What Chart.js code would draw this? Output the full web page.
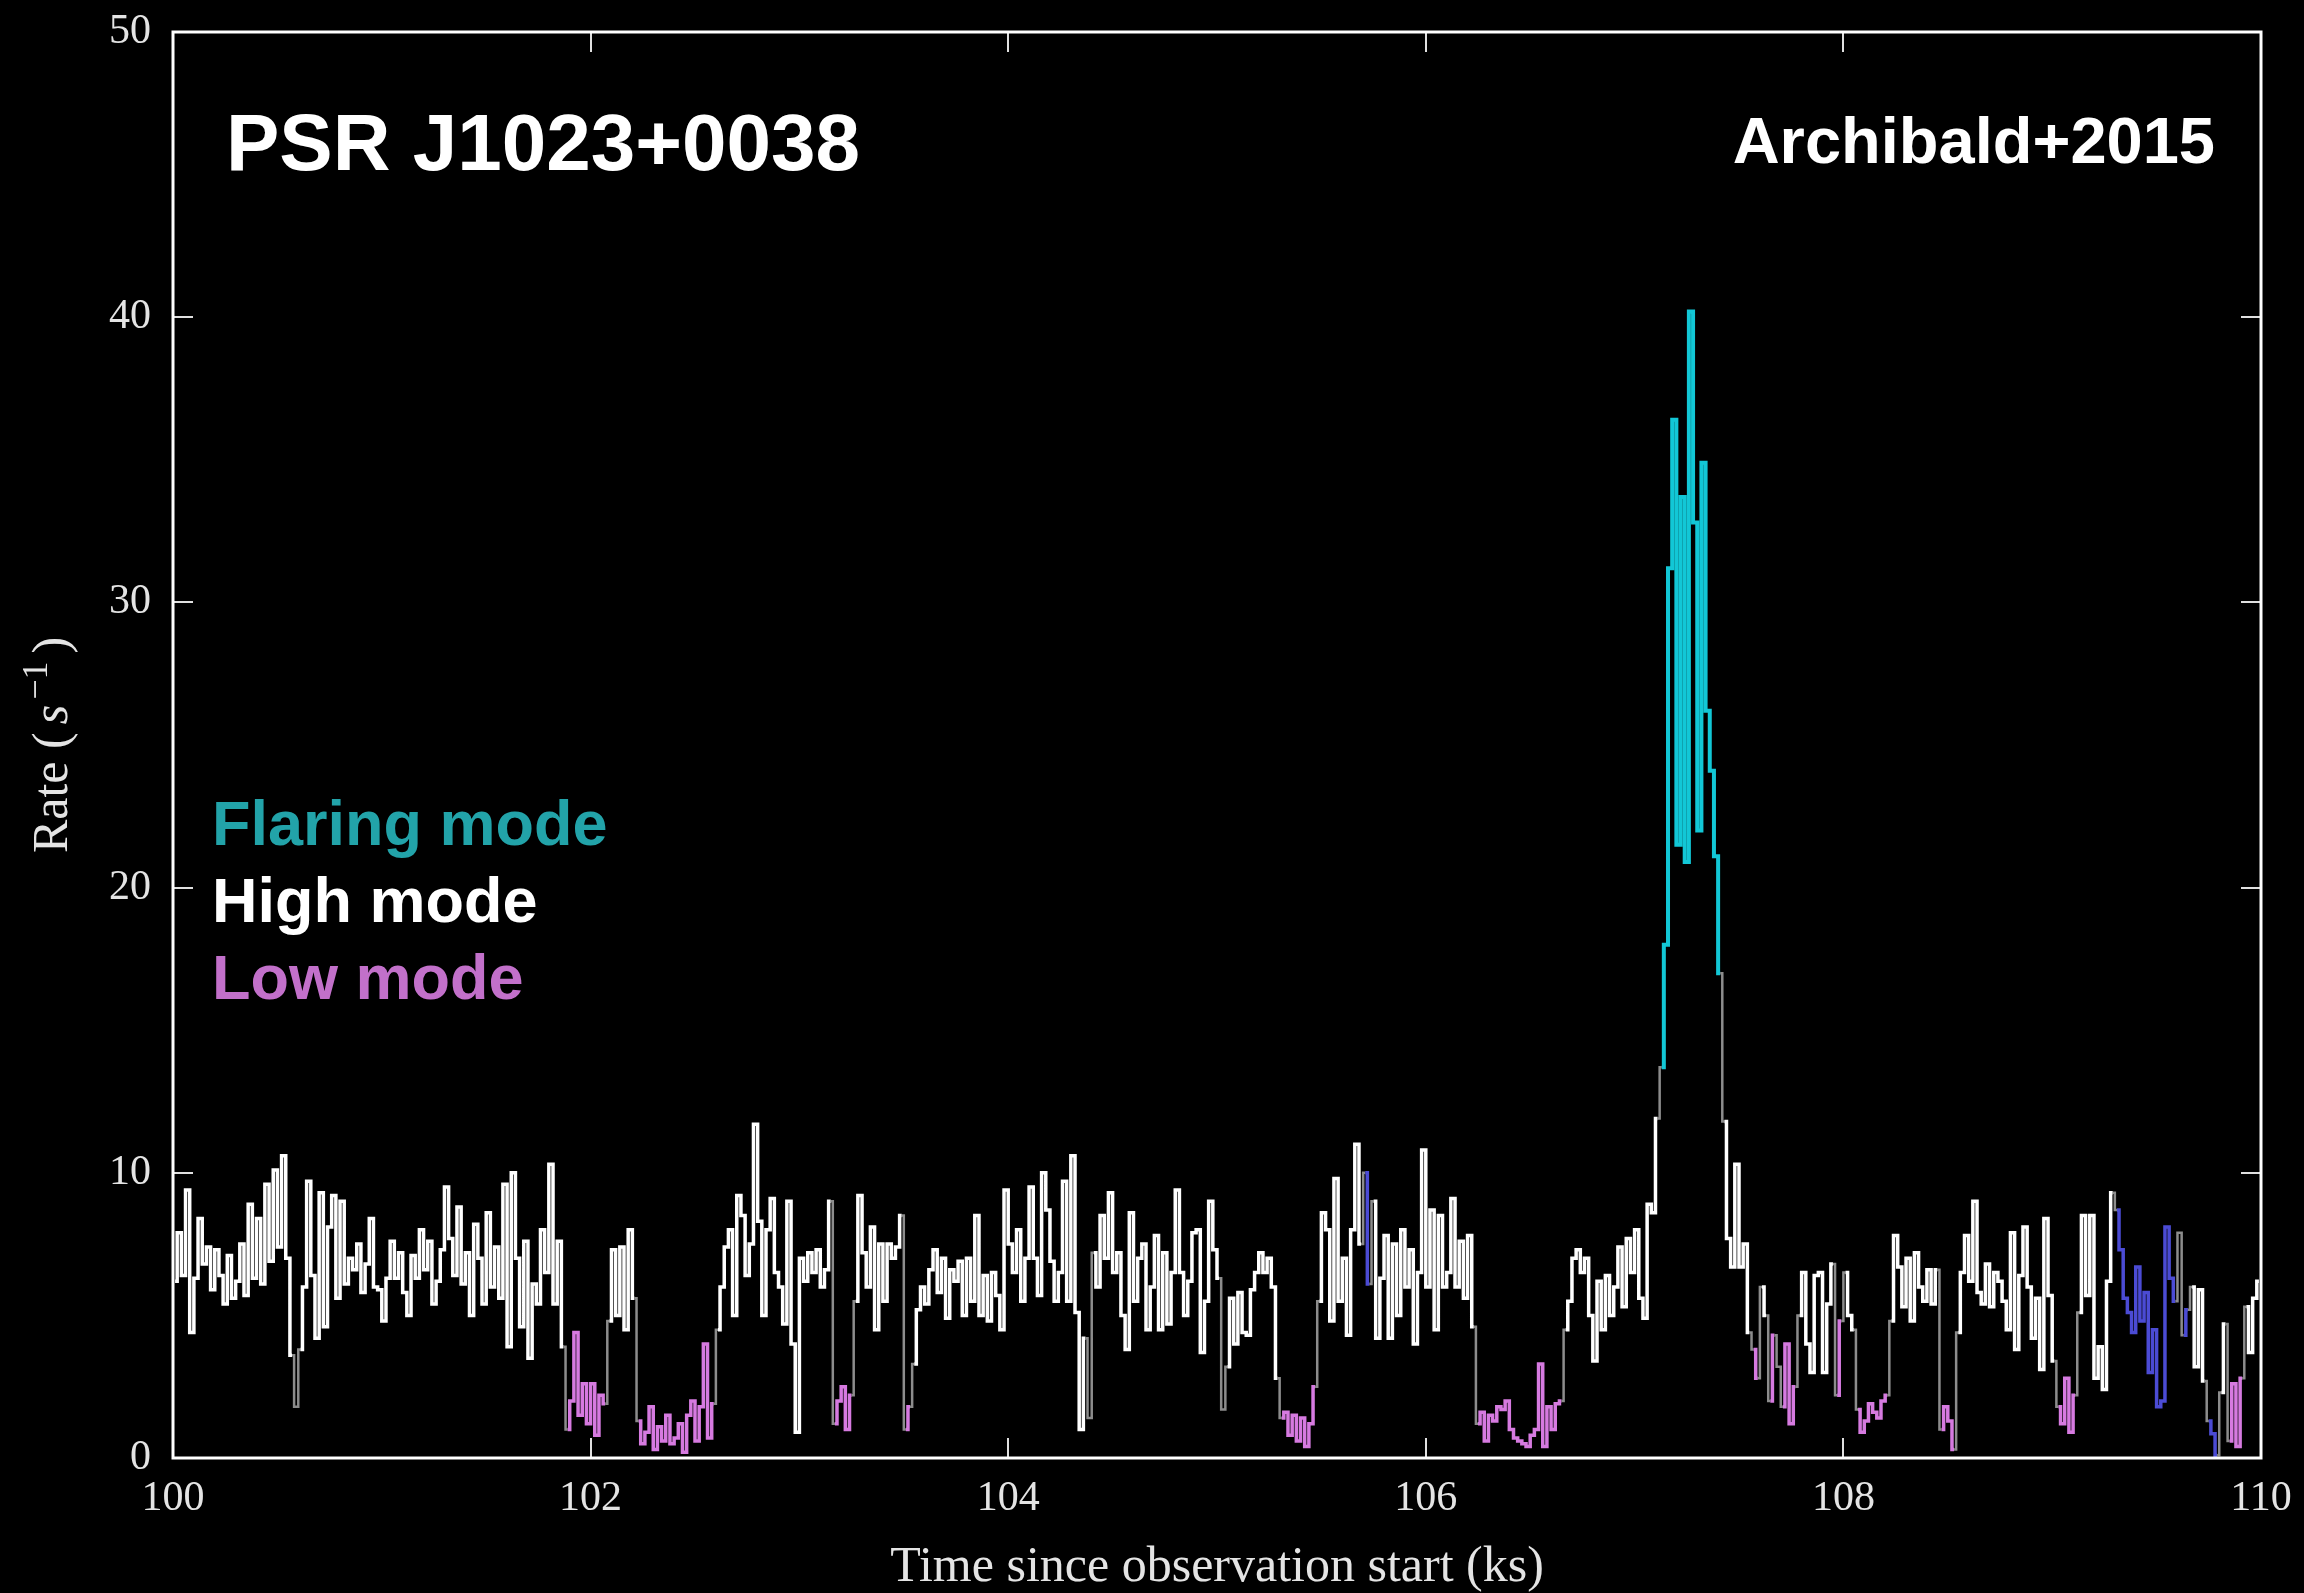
<!DOCTYPE html>
<html>
<head>
<meta charset="utf-8">
<title>PSR J1023+0038 light curve</title>
<script src="https://cdn.jsdelivr.net/npm/chart.js@4.4.1/dist/chart.umd.min.js"></script>
<style>
  html, body { margin: 0; padding: 0; background: #000; }
  canvas { display: block; }
</style>
</head>
<body>
<canvas id="lc" width="2304" height="1593"></canvas>
<script>
// light curve, 20 s bins starting at 100 ks
const tStart = 100;
const binWidth = 0.02;
const rates = [
  6.2, 7.9, 6.4, 9.4, 4.4, 6.3, 8.4, 6.8, 7.4, 5.9,
  7.3, 6.4, 5.4, 7.1, 5.6, 6.2, 7.5, 5.7, 8.9, 6.3,
  8.4, 6.1, 9.6, 6.9, 10.1, 7.4, 10.6, 7.0, 3.6, 1.8,
  3.8, 6.0, 9.7, 6.4, 4.2, 9.3, 4.6, 8.1, 9.2, 5.6,
  9.0, 6.1, 7.0, 6.6, 7.5, 5.8, 6.8, 8.4, 6.0, 5.9,
  4.8, 6.3, 7.6, 6.3, 7.2, 5.8, 5.0, 7.1, 6.3, 8.0,
  6.6, 7.6, 5.4, 6.2, 7.3, 9.5, 7.7, 6.4, 8.8, 6.1,
  7.2, 5.0, 8.2, 7.0, 5.4, 8.6, 6.0, 7.4, 5.6, 9.6,
  3.9, 10.0, 7.0, 4.6, 7.6, 3.5, 6.1, 5.4, 8.0, 6.5,
  10.3, 5.4, 7.6, 3.9, 1.0, 2.0, 4.4, 1.5, 2.6, 1.2,
  2.6, 0.8, 2.2, 1.9, 4.8, 7.3, 5.0, 7.4, 4.5, 8.0,
  5.6, 1.3, 0.5, 0.9, 1.8, 0.3, 1.1, 0.6, 1.5, 0.5,
  0.7, 1.2, 0.2, 1.5, 2.0, 0.6, 1.8, 4.0, 0.7, 1.9,
  4.5, 6.0, 7.4, 8.0, 5.0, 9.2, 8.5, 6.4, 7.5, 11.7,
  8.3, 5.0, 8.0, 9.1, 6.5, 6.0, 4.7, 9.0, 4.0, 0.9,
  7.0, 6.2, 7.2, 6.5, 7.3, 6.0, 6.6, 9.0, 1.2, 2.0,
  2.5, 1.0, 2.2, 5.5, 9.2, 7.2, 6.0, 8.1, 4.5, 7.5,
  5.5, 7.5, 7.0, 7.4, 8.5, 1.0, 1.8, 3.3, 5.2, 6.0,
  5.4, 6.6, 7.3, 5.8, 7.0, 4.9, 6.6, 6.2, 6.9, 5.0,
  7.0, 5.5, 8.5, 5.0, 6.4, 4.8, 6.5, 5.7, 4.5, 9.4,
  7.5, 6.5, 8.0, 5.5, 7.0, 9.5, 7.0, 5.7, 10.0, 8.7,
  6.9, 5.5, 6.5, 9.7, 5.5, 10.6, 5.1, 1.0, 4.2, 1.4,
  7.2, 6.0, 8.5, 7.0, 9.3, 6.5, 7.2, 5.0, 3.8, 8.6,
  5.5, 7.0, 7.5, 4.5, 6.0, 7.8, 4.5, 7.2, 4.7, 6.5,
  9.4, 6.5, 5.0, 6.2, 7.9, 8.0, 3.7, 5.5, 9.0, 7.3,
  6.3, 1.7, 3.2, 5.6, 4.0, 5.8, 4.4, 4.3, 5.9, 6.5,
  7.2, 6.5, 7.0, 6.0, 2.8, 1.4, 1.6, 0.8, 1.5, 0.6,
  1.4, 0.4, 1.2, 2.5, 5.5, 8.6, 8.0, 4.8, 9.8, 5.5,
  7.0, 4.3, 8.0, 11.0, 7.5, 10.0, 6.1, 9.0, 4.2, 6.3,
  7.8, 4.2, 7.5, 5.0, 8.0, 6.0, 7.3, 4.0, 6.5, 10.8,
  6.0, 8.7, 4.5, 8.5, 6.0, 6.5, 9.1, 6.0, 7.6, 5.6,
  7.8, 4.6, 1.2, 1.6, 0.6, 1.5, 1.3, 1.8, 1.7, 2.0,
  1.0, 0.7, 0.6, 0.5, 0.4, 0.8, 1.0, 3.3, 0.4, 1.8,
  1.0, 1.9, 2.0, 4.5, 5.5, 7.0, 7.3, 6.5, 7.0, 5.0,
  3.4, 6.2, 4.5, 6.4, 5.0, 6.0, 7.4, 5.3, 7.7, 6.5,
  8.0, 5.6, 4.9, 8.9, 8.6, 11.9, 13.7, 18.0, 31.2, 36.4,
  21.5, 33.7, 20.9, 40.2, 32.8, 22.0, 34.9, 26.2, 24.1, 21.1,
  17.0, 11.8, 7.7, 6.7, 10.3, 6.7, 7.5, 4.4, 3.8, 2.8,
  6.0, 5.0, 2.0, 4.3, 3.2, 1.8, 4.0, 1.2, 2.5, 5.0,
  6.5, 4.0, 3.0, 6.4, 6.5, 3.0, 5.4, 6.8, 2.2, 4.8,
  6.5, 5.0, 4.5, 1.7, 0.9, 1.3, 1.9, 1.6, 1.4, 2.0,
  2.2, 4.8, 7.8, 6.7, 5.3, 7.0, 4.8, 7.2, 6.0, 5.5,
  6.6, 5.4, 6.6, 1.0, 1.8, 1.3, 0.3, 4.4, 6.5, 7.8,
  6.2, 9.0, 5.8, 5.4, 6.8, 5.3, 6.5, 6.2, 5.5, 4.5,
  7.9, 3.8, 6.4, 8.1, 6.0, 4.2, 5.6, 3.1, 8.4, 5.7,
  3.4, 1.8, 1.2, 2.8, 0.9, 2.2, 5.1, 8.5, 5.7, 8.5,
  2.8, 3.9, 2.4, 6.2, 9.3, 8.7, 7.3, 5.6, 5.1, 4.4,
  6.7, 4.8, 5.8, 3.0, 4.5, 1.8, 2.0, 8.1, 6.3, 5.5,
  7.9, 4.3, 5.2, 6.0, 3.2, 5.9, 2.7, 1.3, 0.85, 0.1,
  2.3, 4.7, 0.6, 2.6, 0.4, 2.8, 5.3, 3.7, 5.6, 6.2
];

// mode time ranges (ks)
const flareRanges = [[107.12, 107.42]];
const lowRanges = [
  [100.58, 100.60], [101.88, 102.08], [102.22, 102.60], [103.16, 103.26],
  [103.50, 103.54], [104.38, 104.40], [105.02, 105.04], [105.30, 105.48],
  [106.24, 106.66], [107.56, 107.60], [107.64, 107.68], [107.70, 107.78],
  [107.96, 108.00], [108.06, 108.22], [108.46, 108.54], [109.02, 109.12],
  [109.84, 109.92]
];
const blueRanges = [[105.70, 105.74], [109.30, 109.60], [109.62, 109.66], [109.74, 109.80]];

const xTicks = [100, 102, 104, 106, 108, 110];
const yTicks = [0, 10, 20, 30, 40, 50];
const modeLabels = ["Flaring mode", "High mode", "Low mode"];
const sourceName = "PSR J1023+0038";
const reference = "Archibald+2015";

const colors = { h: "#ffffff", l: "#d67ae0", f: "#12c7d6", b: "#4b4bd4", gap: "#8c8c8c" };
const widths = { h: 3.5, l: 3.5, f: 4, b: 3.5 };
const labelColors = ["#22a3a9", "#ffffff", "#c270ca"];
const textColor = "#e4e4e4";
const serif = "'Liberation Serif', 'Times New Roman', serif";
const sans = "'Liberation Sans', Arial, sans-serif";

const inRanges = (t, list) => list.some(r => t >= r[0] && t <= r[1]);
const modes = rates.map((v, i) => {
  const t = tStart + (i + 0.5) * binWidth;
  if (inRanges(t, flareRanges)) return "f";
  if (inRanges(t, lowRanges)) return "l";
  if (inRanges(t, blueRanges)) return "b";
  return "h";
});

const frame = {
  id: "frame",
  afterDatasetsDraw(chart) {
    const { ctx, chartArea: a, scales: { x, y } } = chart;
    ctx.save();
    ctx.strokeStyle = "#e0e0e0";
    ctx.lineWidth = 2;
    ctx.beginPath();
    xTicks.slice(1, -1).forEach(v => {
      const px = Math.round(x.getPixelForValue(v));
      ctx.moveTo(px, a.bottom); ctx.lineTo(px, a.bottom - 20);
      ctx.moveTo(px, a.top); ctx.lineTo(px, a.top + 20);
    });
    yTicks.slice(1, -1).forEach(v => {
      const py = Math.round(y.getPixelForValue(v));
      ctx.moveTo(a.left, py); ctx.lineTo(a.left + 20, py);
      ctx.moveTo(a.right, py); ctx.lineTo(a.right - 20, py);
    });
    ctx.stroke();

    ctx.strokeStyle = "#ffffff";
    ctx.lineWidth = 3;
    ctx.strokeRect(a.left, a.top, a.right - a.left, a.bottom - a.top);

    // annotations
    ctx.fillStyle = "#ffffff";
    ctx.textBaseline = "alphabetic";
    ctx.font = "bold 80px " + sans;
    ctx.textAlign = "left";
    ctx.fillText(sourceName, 226, 170);
    ctx.font = "bold 65px " + sans;
    ctx.textAlign = "right";
    ctx.fillText(reference, 2215, 163);

    ctx.font = "bold 63px " + sans;
    ctx.textAlign = "left";
    modeLabels.forEach((txt, i) => {
      ctx.fillStyle = labelColors[i];
      ctx.fillText(txt, 212, 845 + i * 77);
    });

    // y axis title: Rate (s^-1)
    ctx.translate(67, 745);
    ctx.rotate(-Math.PI / 2);
    ctx.fillStyle = textColor;
    const parts = [
      ["Rate (", "50px " + serif, 0, 8],
      ["s", "italic 50px " + serif, 0, 5],
      ["\u22121", "36px " + serif, -20, 8],
      [")", "50px " + serif, 0, 0]
    ];
    let total = 0;
    parts.forEach(p => { ctx.font = p[1]; total += ctx.measureText(p[0]).width + p[3]; });
    let cx = -total / 2;
    parts.forEach(p => {
      ctx.font = p[1];
      ctx.fillText(p[0], cx, p[2]);
      cx += ctx.measureText(p[0]).width + p[3];
    });
    ctx.restore();
  }
};

new Chart(document.getElementById("lc"), {
  type: "line",
  data: {
    datasets: [{
      data: rates.map((v, i) => ({ x: tStart + (i + 0.5) * binWidth, y: v })),
      stepped: "middle",
      borderColor: colors.h,
      borderWidth: 3.5,
      pointRadius: 0,
      segment: {
        borderColor: c => {
          const a = modes[c.p0DataIndex], b = modes[c.p1DataIndex];
          return a === b ? colors[a] : colors.gap;
        },
        borderWidth: c => {
          const a = modes[c.p0DataIndex], b = modes[c.p1DataIndex];
          return a === b ? widths[a] : 2.5;
        }
      }
    }]
  },
  options: {
    responsive: false,
    animation: false,
    layout: { padding: { top: 32, right: 43, left: 0, bottom: 0 } },
    plugins: { legend: { display: false }, tooltip: { enabled: false } },
    scales: {
      x: {
        type: "linear",
        min: 100,
        max: 110,
        afterBuildTicks: s => { s.ticks = xTicks.map(v => ({ value: v })); },
        ticks: { color: textColor, font: { family: serif, size: 42 }, padding: 16, maxRotation: 0 },
        grid: { display: false, drawTicks: false },
        border: { display: false },
        title: {
          display: true,
          text: "Time since observation start (ks)",
          color: textColor,
          font: { family: serif, size: 50, lineHeight: 1 },
          padding: { top: 0, bottom: 0 }
        },
        afterFit: s => { s.height = 135; s.paddingLeft = 0; s.paddingRight = 0; }
      },
      y: {
        min: 0,
        max: 50,
        afterBuildTicks: s => { s.ticks = yTicks.map(v => ({ value: v })); },
        ticks: { color: textColor, font: { family: serif, size: 42 }, padding: 22 },
        grid: { display: false, drawTicks: false },
        border: { display: false },
        afterFit: s => { s.width = 173; s.paddingTop = 0; s.paddingBottom = 0; }
      }
    }
  },
  plugins: [frame]
});
</script>
</body>
</html>
